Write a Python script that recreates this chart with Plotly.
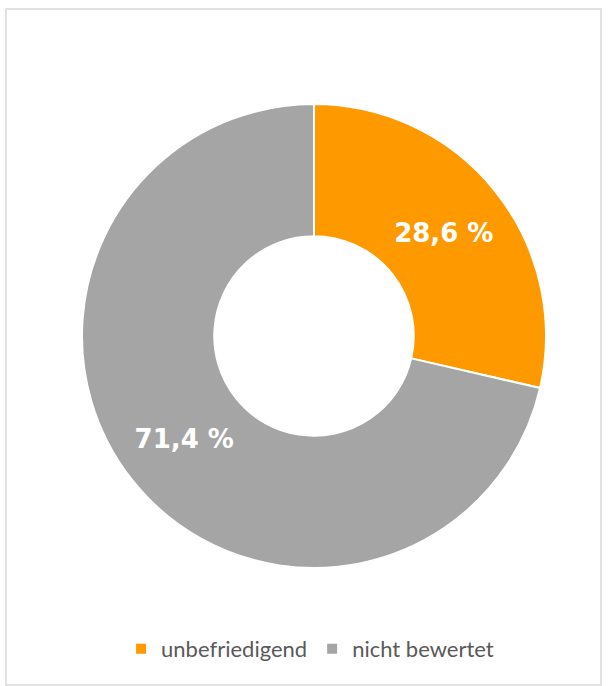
import plotly.graph_objects as go

categories = ["unbefriedigend", "nicht bewertet"]
values = [28.6, 71.4]
colors = ["#FF9900", "#A5A5A5"]

W, H = 608, 686
cx, cy, R = 314, 336, 232

fig = go.Figure(go.Pie(
    labels=categories,
    values=values,
    hole=0.43,
    sort=False,
    direction="clockwise",
    rotation=0,
    marker=dict(colors=colors, line=dict(color="white", width=2)),
    texttemplate="%{value:.1f} %",
    textposition="inside",
    insidetextorientation="horizontal",
    textfont=dict(family="DejaVu Sans", size=26, color="white", weight="bold"),
    hoverinfo="skip",
    domain=dict(x=[(cx - R) / W, (cx + R) / W], y=[(H - cy - R) / H, (H - cy + R) / H]),
))

fig.update_layout(
    width=W, height=H,
    margin=dict(l=0, r=0, t=0, b=0),
    paper_bgcolor="white",
    separators=",.",
    showlegend=True,
    legend=dict(orientation="h", x=0.51, xanchor="center", y=(H - 649) / H, yanchor="middle",
                font=dict(family="Lato", size=22, color="#595959"),
                itemwidth=30, traceorder="normal"),
    shapes=[dict(type="rect", xref="paper", yref="paper",
                 x0=6 / W, x1=601 / W, y0=1 / H, y1=(H - 9) / H,
                 line=dict(color="#D9D9D9", width=1.5), fillcolor="rgba(0,0,0,0)")],
)

fig.write_html("out.html", config={"displayModeBar": False},
               post_script="document.body.style.margin='0';")
